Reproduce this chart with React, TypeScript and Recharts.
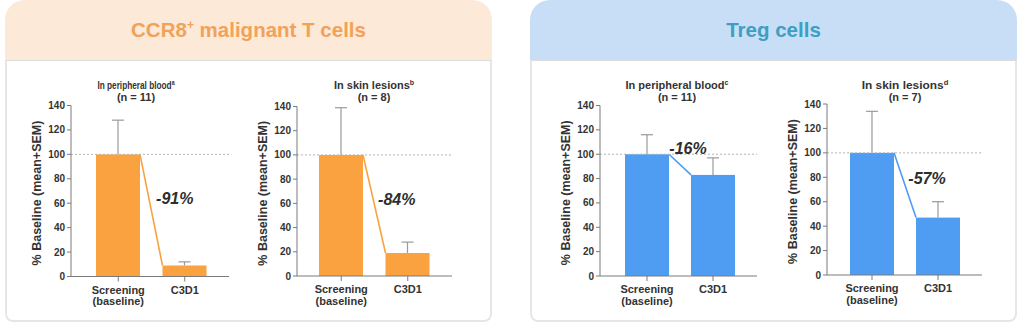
import React from 'react';
import { BarChart, Bar, XAxis, YAxis, ReferenceLine, ReferenceDot } from 'recharts';

const categories = ['Screening\n(baseline)', 'C3D1'];
const yTicks = [0, 20, 40, 60, 80, 100, 120, 140];

const bloodMalignantMean = [100, 9];
const bloodMalignantSem = [28, 3];
const skinMalignantMean = [100, 19];
const skinMalignantSem = [39, 9];
const bloodTregMean = [100, 83];
const bloodTregSem = [16, 14];
const skinTregMean = [100, 47];
const skinTregSem = [34, 13];

const changeLabels = ['-91%', '-84%', '-16%', '-57%'];
// y value (data units) where each change label sits
const changeLabelY = [64, 63, 104.5, 79];

const ORANGE = '#f9a23f';
const BLUE = '#4f9cf3';
const FONT = '"Liberation Sans", Arial, sans-serif';
const TEXT = '#333';
const AXIS = '#7a7a7a';

interface ChartSpec {
  title: string;
  sup: string;
  n: string;
  mean: number[];
  sem: number[];
  change: string;
  changeY: number;
  changeDx: number;
  color: string;
  axisX: number;
  plotW: number;
  plotTop: number;
  plotH: number;
  padLeft: number;
  titleX: number;
  titleScale: number;
}

const charts: ChartSpec[] = [
  { title: 'In peripheral blood', sup: 'a', n: '(n = 11)', mean: bloodMalignantMean, sem: bloodMalignantSem, change: changeLabels[0], changeY: changeLabelY[0], changeDx: -10, color: ORANGE, axisX: 71, plotW: 158, plotTop: 105.5, plotH: 171, padLeft: 14, titleX: 136, titleScale: 0.75 },
  { title: 'In skin lesions', sup: 'b', n: '(n = 8)', mean: skinMalignantMean, sem: skinMalignantSem, change: changeLabels[1], changeY: changeLabelY[1], changeDx: -11, color: ORANGE, axisX: 297, plotW: 155, plotTop: 106.5, plotH: 169.5, padLeft: 11, titleX: 374, titleScale: 1 },
  { title: 'In peripheral blood', sup: 'c', n: '(n = 11)', mean: bloodTregMean, sem: bloodTregSem, change: changeLabels[2], changeY: changeLabelY[2], changeDx: -25, color: BLUE, axisX: 600, plotW: 157, plotTop: 105.5, plotH: 170.5, padLeft: 14, titleX: 677, titleScale: 1 },
  { title: 'In skin lesions', sup: 'd', n: '(n = 7)', mean: skinTregMean, sem: skinTregSem, change: changeLabels[3], changeY: changeLabelY[3], changeDx: -11, color: BLUE, axisX: 827, plotW: 155, plotTop: 104, plotH: 171, padLeft: 12, titleX: 905, titleScale: 1.08 },
];

function CatTick(props: any) {
  const { x, y, payload } = props;
  const lines = String(payload.value).split('\n');
  return (
    <text x={x} y={y} textAnchor="middle" fill={TEXT} fontSize={11} fontWeight={700} fontFamily={FONT}>
      {lines.map((l, i) => (
        <tspan key={i} x={x} dy={i === 0 ? 10 : 11.5}>{l}</tspan>
      ))}
    </text>
  );
}

function renderYLabel(props: any) {
  const { x, y, width, height } = props.viewBox;
  const cx = x + width - 34;
  const cy = y + height / 2 + 2;
  return (
    <text x={cx} y={cy} transform={`rotate(-90 ${cx} ${cy})`} textAnchor="middle" dominantBaseline="central"
      fill={TEXT} fontSize={12.5} fontWeight={700} fontFamily={FONT}>
      % Baseline (mean+SEM)
    </text>
  );
}

// bar + upward SEM whisker + connector from previous bar's top-right corner
function makeShape(color: string) {
  const prev: { x?: number; y?: number } = {};
  return (props: any) => {
    const { x, y, width, height, index, payload } = props;
    if (index === 0) {
      prev.x = x + width;
      prev.y = y;
    }
    const perUnit = payload.value ? height / payload.value : 0;
    const yErr = y - payload.sem * perUnit;
    const cx = x + width / 2;
    return (
      <g>
        <line x1={cx} y1={y} x2={cx} y2={yErr} stroke="#9a9a9a" strokeWidth={1.2} />
        <line x1={cx - 6} y1={yErr} x2={cx + 6} y2={yErr} stroke="#9a9a9a" strokeWidth={1.2} />
        <rect x={x} y={y} width={width} height={height} fill={color} />
        {index === 1 && prev.x != null && (
          <line x1={prev.x} y1={prev.y} x2={x} y2={y} stroke={color} strokeWidth={1.6} />
        )}
      </g>
    );
  };
}

function SmallChart({ spec }: { spec: ChartSpec }) {
  const data = categories.map((c, i) => ({ name: c, value: spec.mean[i], sem: spec.sem[i] }));
  const top = 60;
  const width = 60 + spec.plotW + 14;
  const height = 250;
  const marginTop = spec.plotTop - top;
  const marginBottom = height - marginTop - spec.plotH - 30;
  const shape = makeShape(spec.color);
  return (
    <>
      <div style={{ position: 'absolute', left: spec.axisX - 60, top }}>
        <BarChart width={width} height={height} data={data}
          margin={{ top: marginTop, right: 14, left: 0, bottom: marginBottom }}>
          <ReferenceLine y={100} stroke="#b5b5b5" strokeDasharray="2 2" />
          <XAxis dataKey="name" type="category" interval={0} height={30} tickSize={5} tickMargin={2}
            padding={{ left: spec.padLeft, right: 11 }}
            axisLine={{ stroke: AXIS }} tickLine={{ stroke: AXIS }} tick={<CatTick />} />
          <YAxis domain={[0, 140]} ticks={yTicks} width={60} tickSize={4} tickMargin={2}
            axisLine={{ stroke: AXIS }} tickLine={{ stroke: AXIS }}
            tick={{ fontSize: 10, fontWeight: 700, fill: TEXT, fontFamily: FONT }}
            label={{ content: renderYLabel }} />
          <Bar dataKey="value" barSize={44} fill={spec.color} shape={shape} isAnimationActive={false} />
          <ReferenceDot x={categories[1]} y={spec.changeY} r={0} fill="none" stroke="none"
            label={{
              content: (p: any) => {
                const vb = p.viewBox || {};
                const cx = (vb.x ?? 0) + (vb.width ?? 0) / 2 + spec.changeDx;
                const cy = (vb.y ?? 0) + (vb.height ?? 0) / 2;
                return (
                  <text x={cx} y={cy} textAnchor="middle" dominantBaseline="central" fill="#2e2e2e"
                    fontSize={16} fontWeight={700} fontStyle="italic" fontFamily={FONT}>
                    {spec.change}
                  </text>
                );
              },
            }} />
        </BarChart>
      </div>
      <div style={{
        position: 'absolute', left: spec.titleX, top: 79, transform: 'translateX(-50%)',
        textAlign: 'center', fontFamily: FONT, fontSize: 11, fontWeight: 700, color: TEXT, lineHeight: '12px', whiteSpace: 'nowrap',
      }}>
        <div style={{ transform: `scaleX(${spec.titleScale})` }}>
          {spec.title}<sup style={{ fontSize: 7, verticalAlign: 'top', lineHeight: '7px' }}>{spec.sup}</sup>
        </div>
        <div>{spec.n}</div>
      </div>
    </>
  );
}

function Panel({ left, width, bg, color, children }: { left: number; width: number; bg: string; color: string; children: React.ReactNode }) {
  return (
    <>
      <div style={{
        position: 'absolute', left, top: 0, width, height: 60, background: bg, borderRadius: '20px 20px 0 0',
        display: 'flex', alignItems: 'center', justifyContent: 'center', fontFamily: FONT, fontWeight: 700, fontSize: 20.5, color,
      }}>
        {children}
      </div>
      <div style={{
        position: 'absolute', left, top: 60, width, height: 262, boxSizing: 'border-box',
        border: '2px solid #e6e6e6', borderTop: '1px solid #dcdcdc', borderRadius: '0 0 8px 8px', background: '#fff',
      }} />
    </>
  );
}

export default function App() {
  return (
    <div style={{ position: 'absolute', left: 0, top: 0, width: 1024, height: 328, background: '#fff', overflow: 'hidden' }}>
      <Panel left={5} width={487} bg="#fde9d7" color="#f1a25a">
        <span>CCR8<sup style={{ fontSize: 12, verticalAlign: 'top', lineHeight: '14px' }}>+</sup> malignant T cells</span>
      </Panel>
      <Panel left={530} width={487} bg="#c8def6" color="#3c9fc3">
        <span>Treg cells</span>
      </Panel>
      {charts.map((c, i) => (
        <SmallChart key={i} spec={c} />
      ))}
    </div>
  );
}
